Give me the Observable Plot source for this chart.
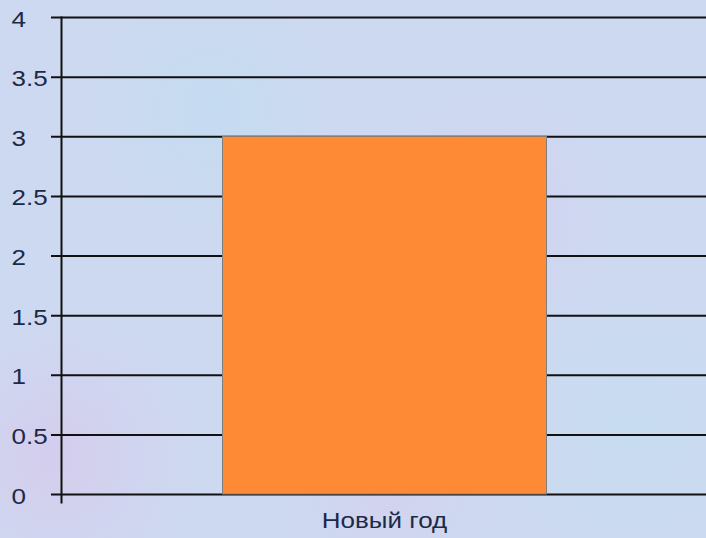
<!DOCTYPE html>
<html>
<head>
<meta charset="utf-8">
<script src="https://cdn.jsdelivr.net/npm/d3@7"></script>
<script src="https://cdn.jsdelivr.net/npm/@observablehq/plot@0.6"></script>
<style>
html, body { margin: 0; padding: 0; }
body {
  width: 706px; height: 538px; overflow: hidden;
  background-color: #cdd9f1;
  background-image:
    radial-gradient(circle at 8% 85%, rgba(215,200,235,0.7), rgba(215,200,235,0) 18%),
    radial-gradient(circle at 30% 20%, rgba(190,220,240,0.6), rgba(190,220,240,0) 20%),
    radial-gradient(circle at 70% 40%, rgba(212,205,238,0.6), rgba(212,205,238,0) 22%),
    radial-gradient(circle at 90% 80%, rgba(195,222,242,0.6), rgba(195,222,242,0) 20%),
    radial-gradient(circle at 55% 90%, rgba(214,206,236,0.6), rgba(214,206,236,0) 18%);
  font-family: "Liberation Sans", Arial, sans-serif;
}
#chart svg { background: transparent; display: block; }
</style>
</head>
<body>
<div id="chart"></div>
<script>
const categories = ["Новый год"];
const values = [3];
const yTicks = [0, 0.5, 1, 1.5, 2, 2.5, 3, 3.5, 4];
const yTickLabels = ["0", "0.5", "1", "1.5", "2", "2.5", "3", "3.5", "4"];

const data = categories.map((c, i) => ({category: c, value: values[i]}));
const ticks = yTicks.map((t, i) => ({t, label: yTickLabels[i]}));

const chart = Plot.plot({
  width: 706,
  height: 538,
  marginLeft: 61,
  marginRight: 0,
  marginTop: 17,
  marginBottom: 44,
  style: {background: "transparent", fontFamily: "'Liberation Sans', Arial, sans-serif", color: "#1c2a48"},
  x: {domain: categories, padding: 0.33, label: null},
  y: {domain: [0, 4], label: null},
  marks: [
    Plot.ruleY(ticks, {y: "t", stroke: "#111", strokeWidth: 2, insetLeft: -10}),
    Plot.frame({anchor: "left", stroke: "#111", strokeWidth: 2, insetBottom: -8}),
    Plot.barY(data, {x: "category", y: "value", fill: "#ff8a35", stroke: "#7f7f7f", strokeWidth: 1, dx: 1.5}),
    Plot.text(ticks, {y: "t", text: "label", frameAnchor: "left", dx: -50, textAnchor: "start", fontSize: 22, fill: "#1c2a48", dy: 2}),
    Plot.axisX({tickSize: 0, tickPadding: 18, fontSize: 22, fill: "#1c2a48", label: null, dx: 1}),
    Plot.axisY({ticks: [], label: null})
  ]
});
document.getElementById("chart").appendChild(chart);
// horizontally widen glyphs to match the reference's stretched lettering
chart.querySelectorAll("text").forEach(t => {
  const len = t.getComputedTextLength();
  if (len > 0) {
    t.setAttribute("textLength", (len * 1.18).toFixed(1));
    t.setAttribute("lengthAdjust", "spacingAndGlyphs");
  }
});
</script>
</body>
</html>
